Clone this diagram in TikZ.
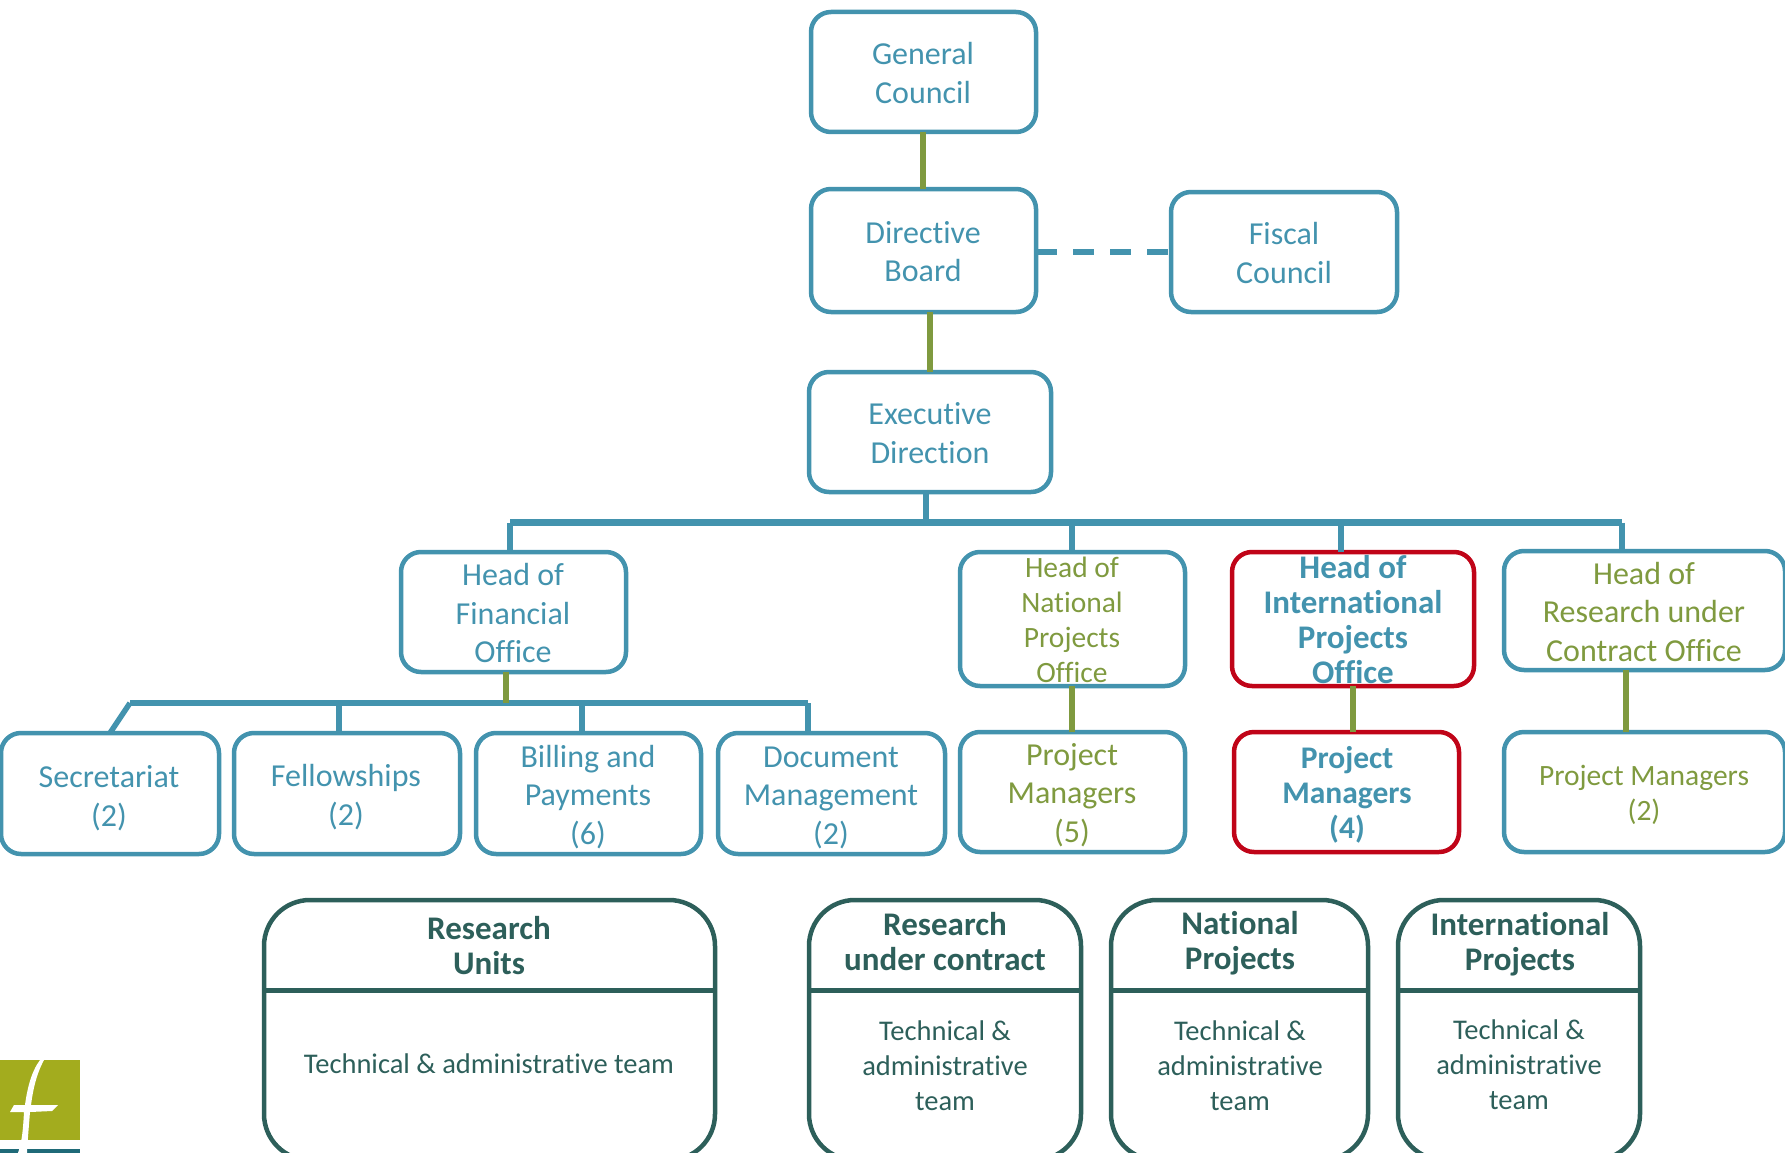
\documentclass[tikz,border=0pt]{standalone}
\usepackage{fontspec}
\setmainfont{Carlito}[Ligatures=NoCommon]
\definecolor{blu}{HTML}{4393AE}
\definecolor{grn}{HTML}{7F9A3F}
\definecolor{red2}{HTML}{C00418}
\definecolor{drk}{HTML}{2D5F5A}
\definecolor{oliv}{HTML}{A3AC1E}
\definecolor{logot}{HTML}{1F6A78}
\newcommand{\bx}[7]{% name, style, x1,y1,x2,y2, extra
  \pgfmathsetmacro{\cxx}{(#3+#5)/2}\pgfmathsetmacro{\cyy}{(#4+#6)/2}
  \pgfmathsetmacro{\wdd}{#5-#3}\pgfmathsetmacro{\htt}{#6-#4}
  \node[#2,minimum width=\wdd pt,minimum height=\htt pt] (#1) at (\cxx,\cyy) {};}
\tikzset{
 box/.style={draw=blu,line width=4.5pt,rounded corners=20pt,inner sep=0,outer sep=0,rectangle},
 redbox/.style={box,draw=red2},
 team/.style={draw=drk,line width=4.5pt,rounded corners=46pt,inner sep=0,outer sep=0,rectangle},
 lab/.style={align=center,inner sep=0,font=\fontsize{32}{38.5}\selectfont},
 labs/.style={align=center,inner sep=0,font=\fontsize{29.5}{35}\selectfont},
 bl/.style={text=blu},
 gr/.style={text=grn},
 ttl/.style={labs,text=drk,font=\fontsize{33}{35}\selectfont\bfseries},
 hdb/.style={labs,text=blu,font=\fontsize{33}{35}\selectfont\bfseries},
 bdy/.style={labs,text=drk,font=\fontsize{28.5}{35}\selectfont},
 conn/.style={draw=blu,line width=6.5pt},
 thin conn/.style={draw=blu,line width=5.5pt},
 gconn/.style={draw=grn,line width=6pt},
}
\begin{document}
\begin{tikzpicture}[x=1pt,y=-1pt]
\clip (0,0) rectangle (1785,1153);
% logo
\fill[oliv] (0,1060) rectangle (80,1140);
\fill[logot] (0,1149) rectangle (80,1153);
\fill[white] (40,1060) .. controls (31,1072) and (27,1090) .. (25,1105)
  -- (14,1105) -- (10,1112) -- (24,1112) .. controls (23,1130) and (22,1142) .. (18,1153)
  -- (27,1153) .. controls (28,1135) and (29,1125) .. (30,1112)
  -- (52,1111) -- (58,1105) -- (31,1105) .. controls (33,1090) and (36,1075) .. (44,1060) -- cycle;
% coordinates of the connectors
\coordinate (busL) at (510,522.5); \coordinate (busR) at (1622,522.5);
\coordinate (sub) at (130,703); \coordinate (subR) at (808,703);
\coordinate (d1) at (923,0); \coordinate (d2) at (930,0); \coordinate (d3) at (926,0);
\coordinate (d4) at (1072,0); \coordinate (d5) at (1341,0);
\coordinate (d6) at (506,0); \coordinate (d7) at (339,0); \coordinate (d8) at (582,0);
\coordinate (d9) at (1353,0); \coordinate (d10) at (1626,0); \coordinate (d11) at (110,0);
\coordinate (dsh) at (0,252);
% boxes
\bx{gc}{box}{811}{12}{1036}{132}{}
\bx{db}{box}{811}{189}{1036}{312}{}
\bx{fc}{box}{1171}{192}{1397}{312}{}
\bx{ed}{box}{809}{372}{1051}{492}{}
\bx{hf}{box}{401}{552}{626}{672}{}
\bx{hn}{box}{960}{552}{1185}{686}{}
\bx{hi}{redbox}{1232}{552}{1474}{686}{}
\bx{hr}{box}{1504}{551}{1785}{670}{}
\bx{se}{box}{1}{733}{219}{854}{}
\bx{fe}{box}{234}{733}{460}{854}{}
\bx{bi}{box}{476}{733}{701}{854}{}
\bx{dm}{box}{718}{733}{945}{854}{}
\bx{pn}{box}{960}{732}{1185}{852}{}
\bx{pi}{redbox}{1234}{732}{1459}{852}{}
\bx{pr}{box}{1504}{732}{1785}{852}{}
\bx{ru}{team}{264}{900}{715}{1160}{}
\bx{rc}{team}{809}{900}{1081}{1160}{}
\bx{np}{team}{1111}{900}{1368}{1160}{}
\bx{ip}{team}{1398}{900}{1640}{1160}{}
\coordinate (div) at (0,990);
\foreach \n in {ru,rc,np,ip} \draw[drk,line width=5pt] (\n.west |- div) -- (\n.east |- div);
% labels
\node[lab,bl] (gct) at (923,73) {General\\Council};
\node[lab,bl] (dbt) at (923,251.5) {Directive\\Board};
\node[lab,bl] (fct) at (1284,253) {Fiscal\\Council};
\node[lab,bl] (edt) at (930,433) {Executive\\Direction};
\node[lab,bl] (hft) at (513,613) {Head of\\Financial\\Office};
\node[labs,gr] (hnt) at (1072,620) {Head of\\National\\Projects\\Office};
\node[hdb] (hit) at (1353,620) {Head of\\International\\Projects\\Office};
\node[lab,gr] (hrt) at (1644,612) {Head of\\Research under\\Contract Office};
\node[lab,bl] (set) at (109,798) {Secretariat\\(2)};
\node[lab,bl] (fet) at (346,797) {Fellowships\\(2)};
\node[lab,bl] (bit) at (588,797) {Billing and\\Payments\\(6)};
\node[lab,bl] (dmt) at (831,797.5) {Document\\Management\\(2)};
\node[lab,gr] (pnt) at (1072,795) {Project\\Managers\\(5)};
\node[hdb,font=\fontsize{31.5}{35}\selectfont\bfseries] (pit) at (1347,795) {Project\\Managers\\(4)};
\node[labs,gr] (prt) at (1644,795) {Project Managers\\(2)};
\node[ttl] (rut) at (489,946) {Research\\Units};
\node[ttl] (rct) at (945,942) {Research\\under contract};
\node[ttl] (npt) at (1240,943) {National\\Projects};
\node[ttl] (ipt) at (1520,944) {International\\Projects};
\node[bdy] (rub) at (489,1064) {Technical \& administrative team};
\node[bdy] (rcb) at (945,1066) {Technical \&\\administrative\\team};
\node[bdy] (npb) at (1240,1066) {Technical \&\\administrative\\team};
\node[bdy] (ipb) at (1519,1065) {Technical \&\\administrative\\team};
% connectors
\draw[gconn] (d1 |- gc.south) -- (d1 |- db.north);
\draw[gconn] (d2 |- db.south) -- (d2 |- ed.north);
\draw[conn,dash pattern=on 21pt off 16pt] (db.east |- dsh) -- (fc.west |- dsh);
\draw[conn] (busL) -- (busR);
\draw[thin conn] (d3 |- ed.south) -- (d3 |- busL);
\draw[thin conn] (busL) -- (busL |- hf.north);
\draw[thin conn] (d4 |- busL) -- (d4 |- hn.north);
\draw[thin conn] (d5 |- busL) -- (d5 |- hi.north);
\draw[thin conn] (busR) -- (busR |- hr.north);
\draw[conn] (sub) -- (subR);
\draw[gconn] (d6 |- hf.south) -- (d6 |- sub);
\draw[thin conn] (sub) -- (d11 |- se.north);
\draw[thin conn] (d7 |- sub) -- (d7 |- fe.north);
\draw[thin conn] (d8 |- sub) -- (d8 |- bi.north);
\draw[thin conn] (subR) -- (subR |- dm.north);
\draw[gconn] (d4 |- hn.south) -- (d4 |- pn.north);
\draw[gconn] (d9 |- hi.south) -- (d9 |- pi.north);
\draw[gconn] (d10 |- hr.south) -- (d10 |- pr.north);
\end{tikzpicture}
\end{document}
